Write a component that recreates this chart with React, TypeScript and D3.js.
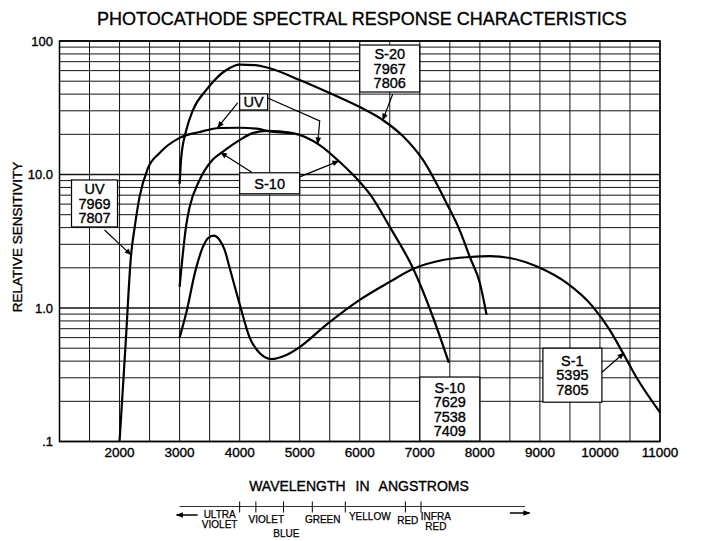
import React from 'react';
import * as d3 from 'd3';

// wavelength (angstrom) / relative sensitivity
const uvWave = [2000, 2100, 2192, 2250, 2333, 2467, 2667, 3000, 3333, 3667, 4000, 4333, 4450, 4883];
const uvSens = [0.1, 0.53, 2.5, 3.97, 6.8, 11, 14.5, 18.8, 20.8, 22.3, 22.4, 21.9, 21.2, 20.4];

const s10Wave = [3000, 3111, 3167, 3333, 3550, 3717, 4000, 4217, 4450, 4883, 5333, 5667, 6000, 6167, 6500, 6883, 7217, 7483];
const s10Sens = [1.44, 4.2, 5.7, 9.1, 12.9, 14.8, 18.1, 20.4, 21.2, 20.4, 16.6, 12.4, 8.8, 7.15, 4.05, 2.0, 0.86, 0.39];

const s20Wave = [3000, 3028, 3112, 3222, 3445, 3778, 4000, 4250, 4500, 5000, 5500, 6000, 6383, 6717, 7050, 7445, 7667, 7833, 8000, 8112];
const s20Sens = [8.5, 13.5, 21.5, 30.4, 43, 60.6, 66.5, 66, 62.5, 51, 40.7, 32, 25.6, 19.4, 12.9, 6.1, 3.8, 2.41, 1.54, 0.89];

const s1Wave = [3000, 3111, 3267, 3390, 3472, 3567, 3667, 3750, 3833, 4000, 4167, 4333, 4528, 4778, 5000, 5445, 6000, 6500, 6883, 7383, 7833, 8167, 8500, 9000, 9445, 9883, 10167, 10383, 10612, 11000];
const s1Sens = [0.6, 0.92, 1.93, 2.88, 3.33, 3.48, 3.23, 2.73, 2.0, 1.07, 0.6, 0.46, 0.415, 0.445, 0.51, 0.75, 1.15, 1.57, 1.96, 2.29, 2.41, 2.45, 2.37, 2.0, 1.54, 1.02, 0.68, 0.46, 0.3, 0.165];

const xTicks = [2000, 3000, 4000, 5000, 6000, 7000, 8000, 9000, 10000, 11000];
const yTicks = [0.1, 1, 10, 100];
const yTickLabels = ['.1', '1.0', '10.0', '100'];

// spectrum band below the axis
const bandEdges = [4000, 4270, 4730, 5210, 5760, 6760, 7020];
const bandLabels = [
  { w: 3667, lines: ['ULTRA', 'VIOLET'], dy: 0 },
  { w: 4445, lines: ['VIOLET'], dy: 5 },
  { w: 4778, lines: ['BLUE'], dy: 19 },
  { w: 5383, lines: ['GREEN'], dy: 5 },
  { w: 6167, lines: ['YELLOW'], dy: 2 },
  { w: 6800, lines: ['RED'], dy: 6 },
  { w: 7267, lines: ['INFRA', 'RED'], dy: 2 },
];

// label boxes: left wavelength, top sensitivity, size in px
const boxes = [
  { w: 1200, v: 9.1, bw: 46, bh: 47, lines: ['UV', '7969', '7807'] },
  { w: 6000, v: 93.3, bw: 60, bh: 47, lines: ['S-20', '7967', '7806'] },
  { w: 4000, v: 40.1, bw: 28, bh: 16, lines: ['UV'] },
  { w: 4000, v: 10.3, bw: 60, bh: 21, lines: ['S-10'] },
  { w: 7000, v: 0.304, bw: 60, bh: 64, lines: ['S-10', '7629', '7538', '7409'] },
  { w: 9050, v: 0.5, bw: 59, bh: 54, lines: ['S-1', '5395', '7805'] },
];

const arrows: [number, number][][] = [
  [[1750, 3.84], [2192, 2.5]],
  [[6550, 40.1], [6383, 25.6]],
  [[3967, 34.4], [3633, 22.4]],
  [[4467, 37.4], [5333, 25.2], [5300, 17]],
  [[4200, 10.4], [3683, 14.6]],
  [[5000, 9.6], [5650, 12.6]],
  [[10033, 0.33], [10400, 0.46]],
];

const font = '"Liberation Sans", Arial, sans-serif';

export default function App() {
  const width = 701;
  const height = 541;
  const left = 59.5, right = 660, top = 41, bottom = 441.5;

  const x = d3.scaleLinear().domain([1000, 11000]).range([left, right]);
  const y = d3.scaleLog().domain([0.1, 100]).range([bottom, top]);

  const line = d3.line<[number, number]>()
    .x(d => x(d[0]))
    .y(d => y(d[1]))
    .curve(d3.curveMonotoneX);

  const series = [
    d3.zip(uvWave, uvSens),
    d3.zip(s10Wave, s10Sens),
    d3.zip(s20Wave, s20Sens),
    d3.zip(s1Wave, s1Sens),
  ] as [number, number][][];

  const vLines = d3.range(1000, 11001, 500);
  const hLines: number[] = [];
  [0.1, 1, 10].forEach(d => d3.range(1, 10).forEach(k => hLines.push(d * k)));
  hLines.push(100);

  const arrowLine = d3.line<[number, number]>().x(d => x(d[0])).y(d => y(d[1]));
  const bandY = 506.5;
  const txt = { fontFamily: font, fill: '#000', stroke: '#000', strokeWidth: 0.35 };

  return (
    <svg width={width} height={height} style={{ position: 'absolute', left: 0, top: 0, background: '#fff' }}>
      <defs>
        <marker id="ah" viewBox="0 0 10 10" refX="9" refY="5" markerWidth="9" markerHeight="7" orient="auto" markerUnits="userSpaceOnUse">
          <path d="M0,1 L10,5 L0,9 Z" fill="#000" />
        </marker>
      </defs>
      <rect width={width} height={height} fill="#fff" />

      <text x={362} y={25} textAnchor="middle" fontSize={18} {...txt}>
        PHOTOCATHODE  SPECTRAL RESPONSE CHARACTERISTICS
      </text>

      {/* grid */}
      <g stroke="#111" strokeWidth={1}>
        {vLines.map(v => (
          <line key={'v' + v} x1={x(v)} x2={x(v)} y1={top} y2={bottom} />
        ))}
        {hLines.map(h => (
          <line key={'h' + h} x1={left} x2={right} y1={y(h)} y2={y(h)} strokeWidth={yTicks.includes(h) ? 1.4 : 1} />
        ))}
      </g>
      <rect x={left} y={top} width={right - left} height={bottom - top} fill="none" stroke="#000" strokeWidth={1.5} />

      {/* curves */}
      <g fill="none" stroke="#000" strokeWidth={2.2} strokeLinejoin="round">
        {series.map((s, i) => <path key={i} d={line(s) || ''} />)}
      </g>

      {/* labels */}
      {boxes.map((b, i) => {
        const bx = x(b.w), by = y(b.v);
        const step = 14.5;
        const first = by + b.bh / 2 - ((b.lines.length - 1) * step) / 2;
        return (
          <g key={i}>
            <rect x={bx} y={by} width={b.bw} height={b.bh} fill="#fff" stroke="#000" strokeWidth={1.2} />
            {b.lines.map((t, j) => (
              <text key={j} x={bx + b.bw / 2} y={first + j * step} dy="0.36em" textAnchor="middle"
                fontSize={14.5} {...txt}>{t}</text>
            ))}
          </g>
        );
      })}

      <g fill="none" stroke="#000" strokeWidth={1.2}>
        {arrows.map((a, i) => <path key={i} d={arrowLine(a) || ''} markerEnd="url(#ah)" />)}
      </g>

      {/* axes labels */}
      {yTicks.map((t, i) => (
        <text key={t} x={53} y={y(t)} dy="0.36em" textAnchor="end" fontSize={13} {...txt}>
          {yTickLabels[i]}
        </text>
      ))}
      {xTicks.map(t => (
        <text key={t} x={x(t)} y={457} textAnchor="middle" fontSize={13.5} {...txt}>
          {t}
        </text>
      ))}
      <text transform="translate(22,237) rotate(-90)" textAnchor="middle" fontSize={13.5} {...txt}>
        RELATIVE SENSITIVITY
      </text>
      <text x={359} y={491} textAnchor="middle" fontSize={14} {...txt} style={{ wordSpacing: '6px' }}>
        WAVELENGTH IN ANGSTROMS
      </text>

      {/* spectrum band */}
      <line x1={x(3000)} x2={x(8750)} y1={bandY} y2={bandY} stroke="#333" strokeWidth={1.2} />
      {bandEdges.map(e => (
        <line key={e} x1={x(e)} x2={x(e)} y1={bandY - 5} y2={bandY + 6} stroke="#000" strokeWidth={1} />
      ))}
      <path d={`M${x(3300)},515 L${x(3000) - 3},515`} stroke="#000" strokeWidth={1.5} markerEnd="url(#ah)" />
      <path d={`M${x(8500)},513 L${x(8830)},513`} stroke="#000" strokeWidth={1.5} markerEnd="url(#ah)" />
      {bandLabels.map((b, i) => (
        <text key={i} x={x(b.w)} y={518 + b.dy} textAnchor="middle" fontSize={10} {...txt} strokeWidth={0.25}>
          {b.lines.map((t, j) => (
            <tspan key={j} x={x(b.w)} dy={j === 0 ? 0 : 10}>{t}</tspan>
          ))}
        </text>
      ))}
    </svg>
  );
}
